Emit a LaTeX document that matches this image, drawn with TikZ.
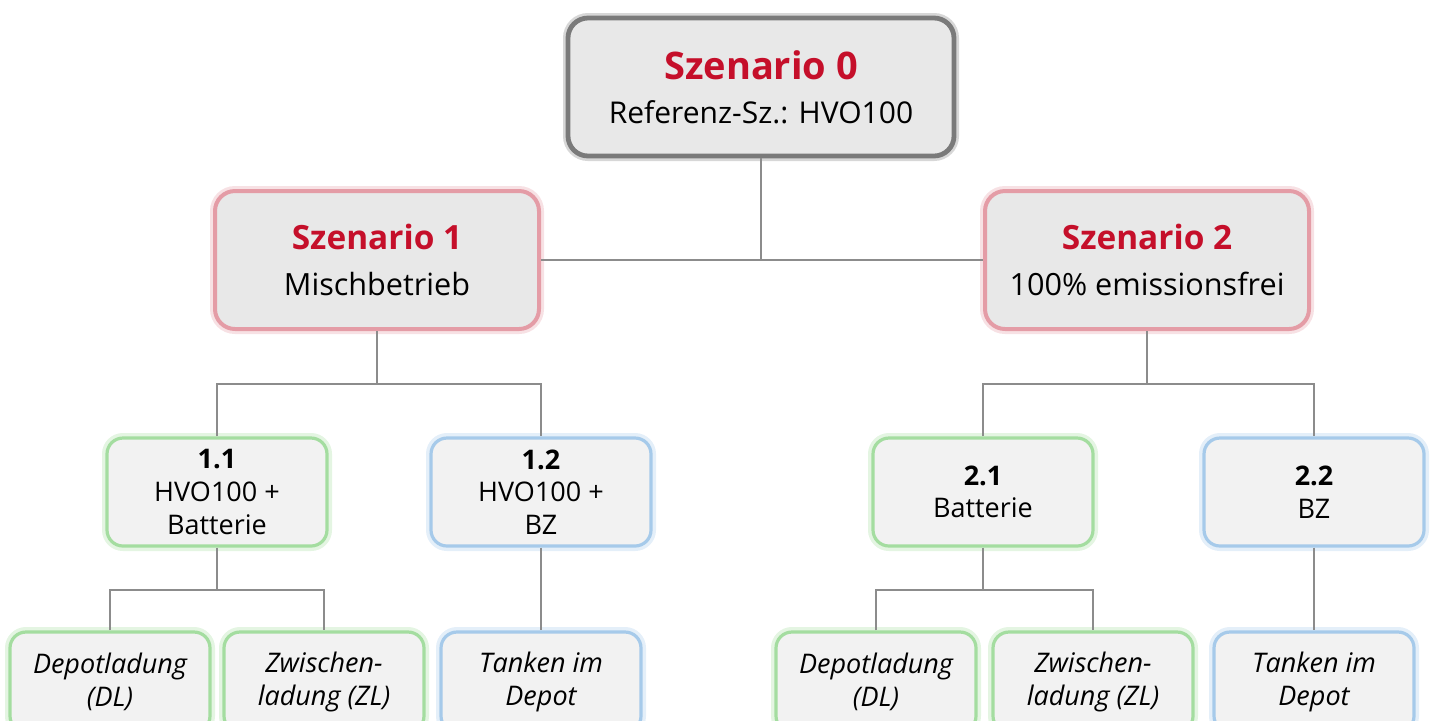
\documentclass[tikz,border=0pt]{standalone}
\usepackage{fontspec}
\setmainfont{Open Sans}
\definecolor{szred}{HTML}{C50F2A}
\definecolor{bigfill}{HTML}{E8E8E8}
\definecolor{smallfill}{HTML}{F2F2F2}
\definecolor{refgray}{HTML}{7A7A7A}
\definecolor{redline}{HTML}{E49CA6}
\definecolor{greenline}{HTML}{A4DDA0}
\definecolor{blueline}{HTML}{A6CAEA}
\definecolor{linkgray}{HTML}{8C8C8C}
\begin{document}
\begin{tikzpicture}[x=0.5pt,y=-0.5pt,
	box/.style={rectangle, align=center, inner sep=0pt},
	glow/.style={preaction={draw=#1, line width=5pt, opacity=0.3}},
	refbox/.style={box, fill=bigfill, draw=refgray, line width=2.4pt, glow=refgray, rounded corners=10pt, minimum width=193pt, minimum height=69pt},
	szbox/.style={box, fill=bigfill, draw=redline, line width=2pt, glow=redline, rounded corners=10pt, minimum width=162pt, minimum height=69pt},
	varbox/.style={box, fill=smallfill, draw=#1, line width=1.6pt, glow=#1, rounded corners=8pt, minimum width=110pt, minimum height=54pt, font=\fontsize{13.5}{16.3}\selectfont},
	subbox/.style={box, fill=smallfill, draw=#1, line width=1.6pt, glow=#1, rounded corners=8pt, minimum width=100pt, minimum height=50pt, font=\fontsize{13.5}{16.5}\selectfont\itshape},
	link/.style={draw=linkgray, line width=0.7pt}]
	\clip (0,0) rectangle (1434,720);
	
	% Szenario 0
	\node[refbox] (s0) at (761,87) {{\fontsize{19}{19}\selectfont\bfseries\color{szred}Szenario 0}\\[10pt]
		{\fontsize{15}{18}\selectfont Referenz-Sz.: HVO100}};
	
	% Szenario 1 and 2
	\node[szbox] (s1) at (377,260) {{\fontsize{16.7}{16.7}\selectfont\bfseries\color{szred}Szenario 1}\\[11pt]
		{\fontsize{15.3}{17}\selectfont Mischbetrieb}};
	\node[szbox] (s2) at (1147,260) {{\fontsize{16.7}{16.7}\selectfont\bfseries\color{szred}Szenario 2}\\[11pt]
		{\fontsize{15.3}{17}\selectfont 100\% emissionsfrei}};
	
	% Varianten
	\node[varbox=greenline] (v11) at (217,492) {\textbf{1.1}\\HVO100 +\\Batterie};
	\node[varbox=blueline] (v12) at (541,492) {\textbf{1.2}\\HVO100 +\\BZ};
	\node[varbox=greenline] (v21) at (983,492) {\textbf{2.1}\\Batterie};
	\node[varbox=blueline] (v22) at (1314,492) {\textbf{2.2}\\BZ};
	
	% Ladung / Tanken
	\node[subbox=greenline] (dl1) at (110,682) {Depotladung\\(DL)};
	\node[subbox=greenline] (zl1) at (324,682) {Zwischen-\\ladung (ZL)};
	\node[subbox=blueline] (tk1) at (541,682) {Tanken im\\Depot};
	\node[subbox=greenline] (dl2) at (876,682) {Depotladung\\(DL)};
	\node[subbox=greenline] (zl2) at (1093,682) {Zwischen-\\ladung (ZL)};
	\node[subbox=blueline] (tk2) at (1314,682) {Tanken im\\Depot};
	
	% junctions
	\coordinate (j1) at (377,384);
	\coordinate (j2) at (1147,384);
	\coordinate (j11) at (217,590);
	\coordinate (j21) at (983,590);
	
	% Links from Szenario 0
	\draw[link] (s1.east) -- (s2.west);
	\draw[link] (s0.south) -- (s0.south |- s1.east);
	
	% Links to Varianten
	\draw[link] (s1.south) -- (j1);
	\draw[link] (v11.north) |- (j1) -| (v12.north);
	\draw[link] (s2.south) -- (j2);
	\draw[link] (v21.north) |- (j2) -| (v22.north);
	
	% Links to Ladung / Tanken
	\draw[link] (v11.south) -- (j11);
	\draw[link] (dl1.north) |- (j11) -| (zl1.north);
	\draw[link] (v12.south) -- (tk1.north);
	\draw[link] (v21.south) -- (j21);
	\draw[link] (dl2.north) |- (j21) -| (zl2.north);
	\draw[link] (v22.south) -- (tk2.north);
\end{tikzpicture}
\end{document}
